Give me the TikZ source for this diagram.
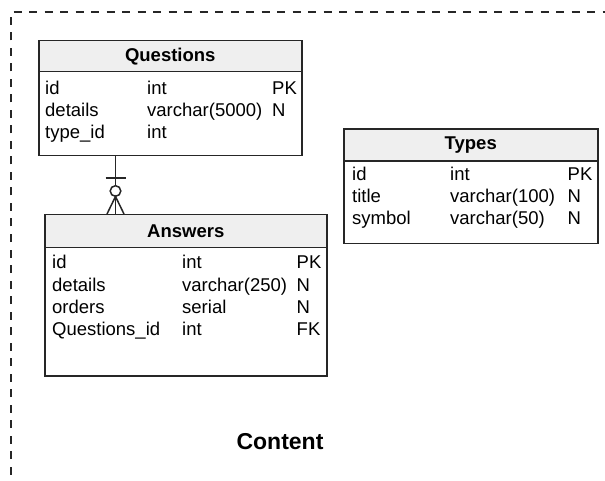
\documentclass[tikz,border=0pt]{standalone}
\usepackage{fontspec}
\setmainfont{Liberation Sans}
\usetikzlibrary{calc}
\definecolor{hdrfill}{HTML}{EFEFEF}
\definecolor{edge}{HTML}{262626}
\tikzset{
  tbl/.style={draw=edge, line width=1.5pt, fill=white, rectangle, inner sep=0pt, anchor=north west},
  hdr/.style={draw=edge, line width=1.5pt, fill=hdrfill, rectangle, inner sep=0pt, anchor=north west,
              font=\fontsize{18.5}{22}\selectfont\bfseries, text=black},
  cell/.style={anchor=base west, inner sep=0pt, font=\fontsize{18.5}{22}\selectfont, text=black},
  conn/.style={draw=edge, line width=1.5pt},
  frame/.style={draw=edge, line width=1.5pt, dash pattern=on 8pt off 7.5pt},
}
\begin{document}
\begin{tikzpicture}[x=1pt, y=-1pt]
\useasboundingbox (0,0) rectangle (605,481);

% outer dashed container
\draw[frame] (11,490) -- (11,12) -- (615,12);
\node[font=\fontsize{23}{26}\selectfont\bfseries, anchor=base] (content) at (280,449) {Content};

% Questions table
\node[tbl, minimum width=263pt, minimum height=115pt] (q) at (38,40) {};
\node[hdr, minimum width=263pt, minimum height=31pt] (qh) at (38,40) {Questions};
\node[cell] (q1a) at (45,94.5) {id};
\node[cell] (q1b) at (147,94.5) {int};
\node[cell] (q1c) at (272,94.5) {PK};
\node[cell] (q2a) at (45,116.5) {details};
\node[cell] (q2b) at (147,116.5) {varchar(5000)};
\node[cell] (q2c) at (272,116.5) {N};
\node[cell] (q3a) at (45,138.5) {type\_id};
\node[cell] (q3b) at (147,138.5) {int};

% Answers table
\node[tbl, minimum width=282pt, minimum height=161pt] (a) at (44,214) {};
\node[hdr, minimum width=282pt, minimum height=32.5pt] (ah) at (44,214) {Answers};
\node[cell] (a1a) at (52,269) {id};
\node[cell] (a1b) at (182,269) {int};
\node[cell] (a1c) at (296.5,269) {PK};
\node[cell] (a2a) at (52,291) {details};
\node[cell] (a2b) at (182,291) {varchar(250)};
\node[cell] (a2c) at (296.5,291) {N};
\node[cell] (a3a) at (52,313) {orders};
\node[cell] (a3b) at (182,313) {serial};
\node[cell] (a3c) at (296.5,313) {N};
\node[cell] (a4a) at (52,335) {Questions\_id};
\node[cell] (a4b) at (182,335) {int};
\node[cell] (a4c) at (296.5,335) {FK};

% Types table
\node[tbl, minimum width=254pt, minimum height=114pt] (t) at (343,128.5) {};
\node[hdr, minimum width=254pt, minimum height=32pt] (th) at (343,128.5) {Types};
\node[cell] (t1a) at (352,181) {id};
\node[cell] (t1b) at (450,181) {int};
\node[cell] (t1c) at (567.5,181) {PK};
\node[cell] (t2a) at (352,203) {title};
\node[cell] (t2b) at (450,203) {varchar(100)};
\node[cell] (t2c) at (567.5,203) {N};
\node[cell] (t3a) at (352,225) {symbol};
\node[cell] (t3b) at (450,225) {varchar(50)};
\node[cell] (t3c) at (567.5,225) {N};

% one Question to zero-or-many Answers
\coordinate (rx) at (115.5,0);
\coordinate (qs) at (q.south -| rx);
\coordinate (an) at (a.north -| rx);
\draw[conn] (qs) -- (an);
\draw[conn] ($(an)+(-10,-36)$) -- ($(an)+(10,-36)$);
\draw[conn, fill=white] ($(an)+(0,-23)$) circle[radius=5.3pt];
\draw[conn] ($(an)+(-8.5,0)$) -- ($(an)+(0,-17.5)$) -- ($(an)+(8.5,0)$);
\end{tikzpicture}
\end{document}
